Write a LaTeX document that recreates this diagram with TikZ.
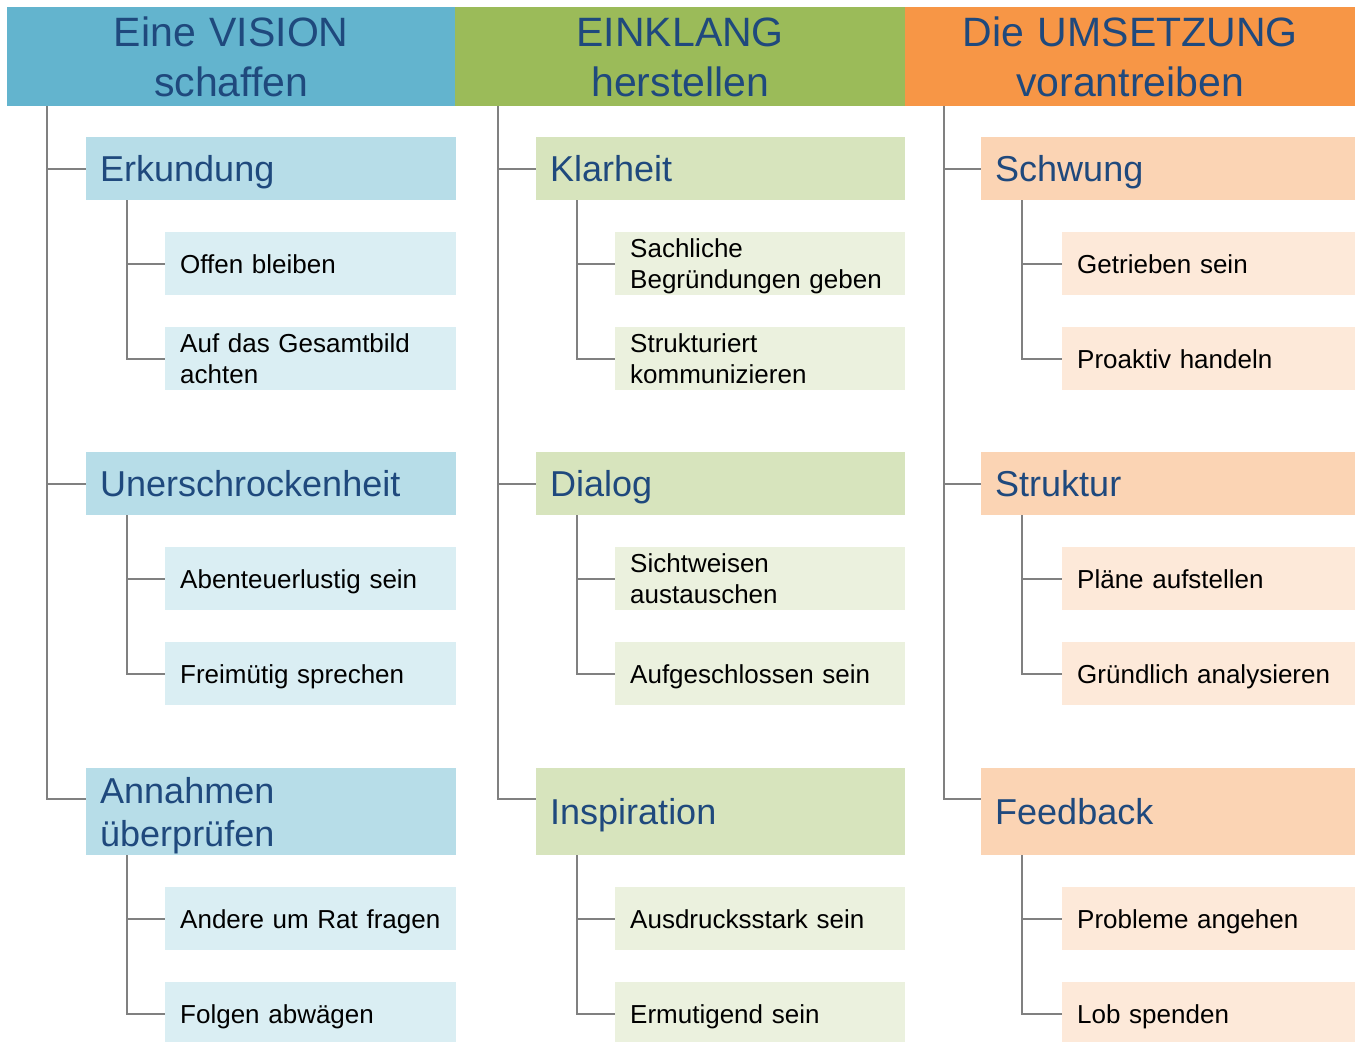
\documentclass[tikz,border=0pt]{standalone}
\usepackage{fontspec}
\setmainfont{Liberation Sans}
\usetikzlibrary{calc}
\definecolor{tblue}{HTML}{1F497D}
\definecolor{hA}{HTML}{63B4CE}
\definecolor{lA}{HTML}{B7DDE8}
\definecolor{sA}{HTML}{DAEEF3}
\definecolor{hB}{HTML}{9BBB59}
\definecolor{lB}{HTML}{D7E4BD}
\definecolor{sB}{HTML}{EBF1DE}
\definecolor{hC}{HTML}{F79646}
\definecolor{lC}{HTML}{FBD4B4}
\definecolor{sC}{HTML}{FDE9D9}
\definecolor{conn}{HTML}{808080}
\begin{document}
\begin{tikzpicture}[x=1pt,y=-1pt,
  hdr/.style={anchor=north west, fill=#1, draw=none, minimum height=99pt, inner sep=0pt,
    text=tblue, align=center, font=\fontsize{41}{50}\selectfont, text height=29.4pt, text depth=50pt},
  lone/.style={anchor=north west, fill=#1, draw=none, minimum height=63pt, inner xsep=14pt, inner ysep=0pt,
    text=tblue, align=left, font=\fontsize{36}{43}\selectfont, text height=25.8pt, text depth=0pt},
  ltwo/.style={anchor=north west, fill=#1, draw=none, minimum height=63pt, inner xsep=15pt, inner ysep=0pt,
    text=black, align=left, font=\fontsize{26}{31}\selectfont, text height=18.6pt, text depth=0pt},
  link/.style={draw=conn, line width=2pt}
]
\useasboundingbox (0,0) rectangle (1362,1041);
\clip (0,0) rectangle (1362,1041);

% headers
\node[hdr=hA, text width=448pt] (h1) at (7,7) {Eine VISION\\schaffen};
\node[hdr=hB, text width=450pt] (h2) at (455,7) {EINKLANG\\herstellen};
\node[hdr=hC, text width=450pt] (h3) at (905,7) {Die UMSETZUNG\\vorantreiben};

% column 1
\node[lone=lA, text width=342pt] (a1) at (86,137) {Erkundung};
\node[ltwo=sA, text width=261pt] (a11) at (165,232) {Offen bleiben};
\node[ltwo=sA, text width=261pt, text depth=31pt] (a12) at (165,327) {Auf das Gesamtbild\\achten};
\node[lone=lA, text width=342pt] (a2) at (86,452) {Unerschrockenheit};
\node[ltwo=sA, text width=261pt] (a21) at (165,547) {Abenteuerlustig sein};
\node[ltwo=sA, text width=261pt] (a22) at (165,642) {Freimütig sprechen};
\node[lone=lA, text width=342pt, minimum height=87pt, text depth=43pt] (a3) at (86,768) {Annahmen\\überprüfen};
\node[ltwo=sA, text width=261pt] (a31) at (165,887) {Andere um Rat fragen};
\node[ltwo=sA, text width=261pt] (a32) at (165,982) {Folgen abwägen};

% column 2
\node[lone=lB, text width=341pt] (b1) at (536,137) {Klarheit};
\node[ltwo=sB, text width=260pt, text depth=31pt] (b11) at (615,232) {Sachliche\\Begründungen geben};
\node[ltwo=sB, text width=260pt, text depth=31pt] (b12) at (615,327) {Strukturiert\\kommunizieren};
\node[lone=lB, text width=341pt] (b2) at (536,452) {Dialog};
\node[ltwo=sB, text width=260pt, text depth=31pt] (b21) at (615,547) {Sichtweisen\\austauschen};
\node[ltwo=sB, text width=260pt] (b22) at (615,642) {Aufgeschlossen sein};
\node[lone=lB, text width=341pt, minimum height=87pt] (b3) at (536,768) {Inspiration};
\node[ltwo=sB, text width=260pt] (b31) at (615,887) {Ausdrucksstark sein};
\node[ltwo=sB, text width=260pt] (b32) at (615,982) {Ermutigend sein};

% column 3
\node[lone=lC, text width=346pt] (c1) at (981,137) {Schwung};
\node[ltwo=sC, text width=263pt] (c11) at (1062,232) {Getrieben sein};
\node[ltwo=sC, text width=263pt] (c12) at (1062,327) {Proaktiv handeln};
\node[lone=lC, text width=346pt] (c2) at (981,452) {Struktur};
\node[ltwo=sC, text width=263pt] (c21) at (1062,547) {Pläne aufstellen};
\node[ltwo=sC, text width=263pt] (c22) at (1062,642) {Gründlich analysieren};
\node[lone=lC, text width=346pt, minimum height=87pt] (c3) at (981,768) {Feedback};
\node[ltwo=sC, text width=263pt] (c31) at (1062,887) {Probleme angehen};
\node[ltwo=sC, text width=263pt] (c32) at (1062,982) {Lob spenden};

% trunks
\coordinate (t1) at ($(h1.south west)+(40,0)$);
\coordinate (t2) at ($(h2.south west)+(43,0)$);
\coordinate (t3) at ($(h3.south west)+(39,0)$);
\foreach \c/\t in {a/t1,b/t2,c/t3}{
  \coordinate (\c3e) at ($(\c3.north west)+(0,31)$);
  \draw[link] (\t) |- (\c3e);
  \draw[link] (\c1.west -| \t) -- (\c1.west);
  \draw[link] (\c2.west -| \t) -- (\c2.west);
  \foreach \k in {1,2,3}{
    \coordinate (u\c\k) at ($(\c\k.south west)+(41,0)$);
    \draw[link] (u\c\k) |- (\c\k2.west);
    \draw[link] (\c\k1.west -| u\c\k) -- (\c\k1.west);
  }
}
\end{tikzpicture}
\end{document}
